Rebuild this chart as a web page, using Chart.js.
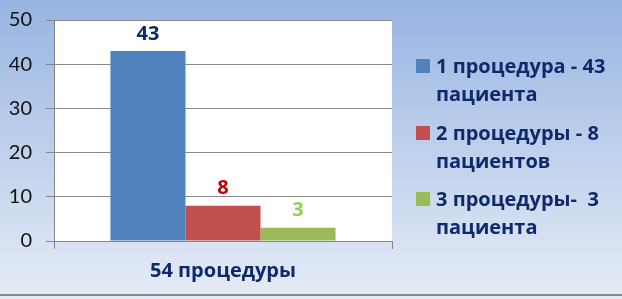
<!DOCTYPE html>
<html>
<head>
<meta charset="utf-8">
<script src="https://cdn.jsdelivr.net/npm/chart.js@4/dist/chart.umd.min.js"></script>
<style>
  html, body { margin: 0; padding: 0; }
  #wrap { width: 622px; height: 299px; position: relative; }
</style>
</head>
<body>
<div id="wrap"><canvas id="BarChart"></canvas></div>
<script>
const categories = ['54 процедуры'];
const seriesNames = ['1 процедура - 43 пациента', '2 процедуры - 8 пациентов', '3 процедуры-  3 пациента'];
const legendLines = [['1 процедура - 43', 'пациента'], ['2 процедуры - 8', 'пациентов'], ['3 процедуры-  3', 'пациента']];
const seriesValues = [[43], [8], [3]];
const barColors = ['#4F81BD', '#C0504D', '#9BBB59'];
const labelColors = ['#0F2A6B', '#C00000', '#92D050'];
const yTicks = [0, 10, 20, 30, 40, 50];

const navy = '#0F2A6B';
const boldFont = 'bold 20px "Open Sans"';

document.addEventListener("DOMContentLoaded", () => {
  const ctx = document.getElementById("BarChart").getContext('2d')

  new Chart(ctx, {
    type: 'bar',
    data: {
      labels: categories,
      datasets: seriesNames.map((name, i) => ({
        label: name,
        data: seriesValues[i],
        backgroundColor: barColors[i],
        categoryPercentage: 0.666,
        barPercentage: 1.0
      }))
    },
    options: {
      responsive: true,
      maintainAspectRatio: false,
      animation: false,
      layout: { padding: { top: 20, right: 230, bottom: 0, left: 0 } },
      plugins: {
        legend: { display: false },
        tooltip: { enabled: false }
      },
      scales: {
        x: {
          grid: { drawOnChartArea: false, color: '#868686', tickLength: 8, offset: true },
          border: { color: '#868686' },
          ticks: { color: navy, padding: 10, font: { family: 'Open Sans', size: 20, weight: 'bold' } },
          afterFit: (s) => { s.height = 58; s.paddingLeft = 0; s.paddingRight = 0; }
        },
        y: {
          min: 0,
          max: 50,
          afterBuildTicks: (s) => { s.ticks = yTicks.map(v => ({ value: v })); },
          grid: { color: '#868686', tickLength: 8 },
          border: { color: '#868686' },
          ticks: { color: '#111', padding: 14, font: { family: 'Lato', size: 20 } },
          afterFit: (s) => { s.width = 54; s.paddingTop = 0; s.paddingBottom = 0; }
        }
      }
    },
    plugins: [{
      beforeDraw: (chart) => {
        const c = chart.ctx;
        const g = c.createLinearGradient(0, 0, 0, chart.height);
        g.addColorStop(0, '#98B4E2');
        g.addColorStop(1, '#E6ECF6');
        c.save();
        c.fillStyle = g;
        c.fillRect(0, 0, chart.width, chart.height);
        const a = chart.chartArea;
        c.fillStyle = '#FFFFFF';
        c.fillRect(a.left, a.top, a.right - a.left, a.bottom - a.top);
        // bottom border line
        c.fillStyle = '#8A8A8A';
        c.fillRect(0, chart.height - 5, chart.width, 2);
        c.restore();
      },
      afterDatasetsDraw: (chart) => {
        const c = chart.ctx;
        c.save();
        c.font = boldFont;
        c.textAlign = 'center';
        c.textBaseline = 'middle';
        chart.data.datasets.forEach((ds, i) => {
          chart.getDatasetMeta(i).data.forEach((bar, j) => {
            c.fillStyle = labelColors[i];
            c.fillText(ds.data[j], bar.x, bar.y - 17);
          });
        });

        // legend
        const tops = [59, 126, 192];
        c.textAlign = 'left';
        legendLines.forEach((lines, i) => {
          c.fillStyle = barColors[i];
          c.fillRect(416, tops[i], 14, 14);
          c.fillStyle = navy;
          c.fillText(lines[0], 436, tops[i] + 8);
          c.fillText(lines[1], 436, tops[i] + 36);
        });
        c.restore();
      }
    }]
  })
});
</script>
</body>
</html>
